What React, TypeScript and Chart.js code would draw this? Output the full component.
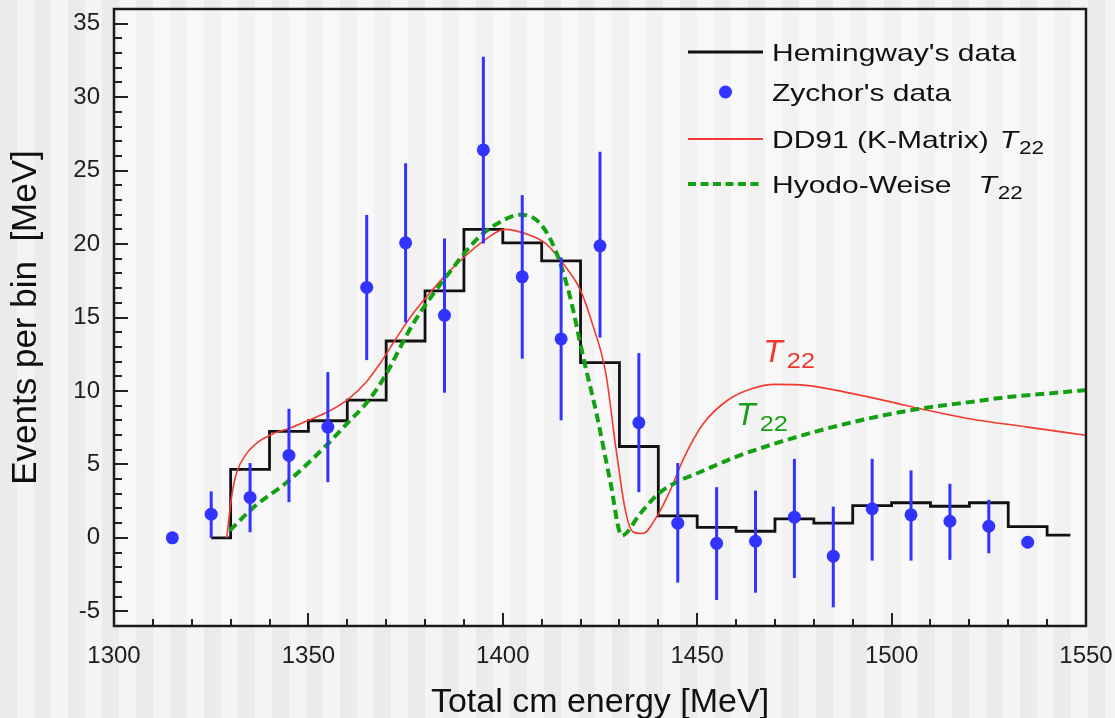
import React, { useEffect, useRef } from "react";
import { Chart, registerables } from "chart.js";

Chart.register(...registerables);

const FONT = "'Liberation Sans', Arial, Helvetica, sans-serif";

// Axis ticks
const xTickValues = [1300, 1350, 1400, 1450, 1500, 1550];
const yTickValues = [-5, 0, 5, 10, 15, 20, 25, 30, 35];
const xMinorStep = 10;
const yMinorStep = 1;

// Hemingway's histogram: bin left edges (last value closes the final bin) and contents
const hemEdges = [1325, 1330, 1340, 1350, 1360, 1370, 1380, 1390, 1400, 1410, 1420, 1430, 1440, 1450, 1460, 1470, 1480, 1490, 1500, 1510, 1520, 1530, 1540, 1546];
const hemCounts = [0, 4.66, 7.25, 7.97, 9.38, 13.4, 16.81, 21.0, 20.08, 18.86, 11.93, 6.22, 1.5, 0.72, 0.45, 1.29, 1.0, 2.2, 2.39, 2.15, 2.39, 0.77, 0.18, 0.18];

// Zychor's data points with error bars
const zyEnergy = [1315, 1325, 1335, 1345, 1355, 1365, 1375, 1385, 1395, 1405, 1415, 1425, 1435, 1445, 1455, 1465, 1475, 1485, 1495, 1505, 1515, 1525, 1535];
const zyCounts = [0.0, 1.61, 2.75, 5.61, 7.54, 17.05, 20.08, 15.15, 26.41, 17.77, 13.54, 19.88, 7.84, 1.0, -0.37, -0.23, 1.41, -1.25, 1.98, 1.57, 1.13, 0.79, -0.3];
const zyHigh = [0.0, 3.16, 5.09, 8.79, 11.28, 21.98, 25.5, 20.38, 32.75, 23.33, 19.09, 26.28, 12.58, 5.09, 3.45, 3.22, 5.38, 2.13, 5.38, 4.59, 3.68, 2.59, -0.3];
const zyLow = [0.0, 0.0, 0.38, 2.43, 3.79, 12.1, 14.66, 9.88, 20.04, 12.2, 8.0, 13.63, 3.11, -3.05, -4.23, -3.73, -2.73, -4.73, -1.55, -1.55, -1.5, -1.05, -0.3];

// DD91 (K-Matrix) T22 curve
const ddEnergy = [1329, 1330.3, 1331.5, 1334, 1337.5, 1341, 1345, 1350, 1355.5, 1360.5, 1365, 1368.5, 1372.5, 1377, 1381, 1385, 1390, 1395, 1400.5, 1407, 1411, 1416, 1420, 1423, 1426.5, 1429, 1431.5, 1433.5, 1436, 1439.5, 1443, 1446.5, 1451.5, 1458, 1464, 1470, 1478, 1490, 1500, 1508, 1520, 1535, 1550];
const ddT22 = [0, 2.9, 4.4, 5.7, 6.6, 7.1, 7.45, 8.0, 8.65, 9.5, 10.65, 11.9, 13.55, 15.3, 16.6, 17.8, 19.1, 20.2, 21.0, 20.6, 20.05, 18.5, 16.85, 14.6, 11.2, 6.3, 1.9, 0.4, 0.3, 1.4, 3.2, 5.4, 7.75, 9.4, 10.15, 10.45, 10.38, 9.82, 9.24, 8.75, 8.11, 7.54, 6.98];

// Hyodo-Weise T22 curve
const hwEnergy = [1329.8, 1336, 1345, 1355, 1360, 1365, 1369, 1377, 1385.5, 1394, 1400, 1404.4, 1409.6, 1413.8, 1417.3, 1420.7, 1424.1, 1427.6, 1430.6, 1435.3, 1440, 1445.5, 1449.7, 1459.8, 1469.9, 1480, 1490, 1500, 1510, 1520, 1530, 1540, 1550];
const hwT22 = [0.5, 2.1, 3.9, 6.4, 7.8, 9.2, 10.7, 14.6, 17.8, 20.5, 21.6, 22.0, 21.4, 19.4, 16.4, 12.3, 8.45, 3.9, 0.16, 1.64, 3.0, 3.9, 4.36, 5.5, 6.41, 7.2, 7.88, 8.45, 8.9, 9.24, 9.59, 9.82, 10.06];

// In-plot curve labels (anchored in data coordinates)
const curveLabels = [
  { x: 1467, y: 12.0, color: "#f0362c" },
  { x: 1460, y: 7.65, color: "#17a017" },
];

const BLACK = "#111111";
const BLUE = "#3333ff";
const RED = "#f23a30";
const GREEN = "#13a013";

const toPoints = (xs: number[], ys: number[]) => xs.map((x, i) => ({ x, y: ys[i] }));

function stretchedText(ctx: CanvasRenderingContext2D, text: string, x: number, y: number, sx: number) {
  ctx.save();
  ctx.translate(x, y);
  ctx.scale(sx, 1);
  ctx.fillText(text, 0, 0);
  ctx.restore();
  return ctx.measureText(text).width * sx;
}

const zeroPadding = (s: any) => {
  s.paddingTop = 0;
  s.paddingBottom = 0;
  s.paddingLeft = 0;
  s.paddingRight = 0;
};

const errorBars = {
  id: "errorBars",
  beforeDatasetDraw(chart: any, args: any) {
    if (args.index !== 1) return;
    const { ctx, scales } = chart;
    ctx.save();
    ctx.strokeStyle = BLUE;
    ctx.lineWidth = 3;
    zyEnergy.forEach((e, i) => {
      if (zyHigh[i] === zyLow[i]) return;
      const px = scales.x.getPixelForValue(e);
      ctx.beginPath();
      ctx.moveTo(px, scales.y.getPixelForValue(zyHigh[i]));
      ctx.lineTo(px, scales.y.getPixelForValue(zyLow[i]));
      ctx.stroke();
    });
    ctx.restore();
  },
};

const frameTicks = {
  id: "frameTicks",
  beforeDatasetsDraw(chart: any) {
    const { ctx, chartArea: a } = chart;
    ctx.save();
    ctx.fillStyle = "rgba(255,255,255,0.35)";
    ctx.fillRect(a.left, a.top, a.right - a.left, a.bottom - a.top);
    ctx.restore();
  },
  afterDatasetsDraw(chart: any) {
    const { ctx, chartArea: a, scales } = chart;
    const xs = scales.x;
    const ys = scales.y;
    ctx.save();
    ctx.strokeStyle = "#222222";
    ctx.lineWidth = 2;
    for (let v = xs.min; v <= xs.max; v += xMinorStep) {
      const px = Math.round(xs.getPixelForValue(v));
      const len = xTickValues.includes(v) ? 13 : 7;
      ctx.beginPath();
      ctx.moveTo(px, a.bottom);
      ctx.lineTo(px, a.bottom - len);
      ctx.stroke();
    }
    for (let v = -6; v <= 36; v += yMinorStep) {
      const py = Math.round(ys.getPixelForValue(v));
      const len = yTickValues.includes(v) ? 14 : 8;
      ctx.beginPath();
      ctx.moveTo(a.left, py);
      ctx.lineTo(a.left + len, py);
      ctx.stroke();
    }
    ctx.lineWidth = 2.5;
    ctx.strokeStyle = "#1a1a1a";
    ctx.strokeRect(a.left, a.top, a.right - a.left, a.bottom - a.top);

    // curve labels T22
    curveLabels.forEach((lab) => {
      const px = xs.getPixelForValue(lab.x);
      const py = ys.getPixelForValue(lab.y);
      ctx.fillStyle = lab.color;
      ctx.textBaseline = "alphabetic";
      ctx.textAlign = "left";
      ctx.font = `italic 32px ${FONT}`;
      const w = stretchedText(ctx, "T", px, py, 1.0);
      ctx.font = `22px ${FONT}`;
      stretchedText(ctx, "22", px + w + 4, py + 6, 1.15);
    });

    // legend
    const lx0 = a.right - 398;
    const lx1 = a.right - 323;
    const tx = a.right - 314;
    const rows = [
      { y: a.top + 43, kind: "line", color: BLACK, width: 2.8, dash: [] as number[], text: "Hemingway's data", gap: 0 },
      { y: a.top + 83, kind: "dot", color: BLUE, width: 0, dash: [] as number[], text: "Zychor's data", gap: 0 },
      { y: a.top + 130, kind: "line", color: RED, width: 2, dash: [] as number[], text: "DD91 (K-Matrix)", gap: 11 },
      { y: a.top + 175, kind: "line", color: GREEN, width: 4, dash: [8, 4.5], text: "Hyodo-Weise", gap: 27 },
    ];
    rows.forEach((r) => {
      if (r.kind === "line") {
        ctx.save();
        ctx.strokeStyle = r.color;
        ctx.lineWidth = r.width;
        ctx.setLineDash(r.dash);
        ctx.beginPath();
        ctx.moveTo(lx0, r.y);
        ctx.lineTo(lx1, r.y);
        ctx.stroke();
        ctx.restore();
      } else {
        ctx.fillStyle = r.color;
        ctx.beginPath();
        ctx.arc((lx0 + lx1) / 2, r.y, 6.5, 0, Math.PI * 2);
        ctx.fill();
      }
      ctx.fillStyle = "#111111";
      ctx.textAlign = "left";
      ctx.textBaseline = "alphabetic";
      ctx.font = `24px ${FONT}`;
      const base = r.y + 8.5;
      const w = stretchedText(ctx, r.text, tx, base, 1.25);
      if (r.gap) {
        const tx2 = tx + w + r.gap;
        ctx.font = `italic 24px ${FONT}`;
        const tw = stretchedText(ctx, "T", tx2, base, 1.25);
        ctx.font = `18px ${FONT}`;
        stretchedText(ctx, "22", tx2 + tw + 1, base + 6, 1.25);
      }
    });
    ctx.restore();
  },
};

export default function App() {
  const ref = useRef<HTMLCanvasElement>(null);

  useEffect(() => {
    const canvas = ref.current;
    if (!canvas) return;
    const chart = new Chart(canvas, {
      type: "line",
      data: {
        datasets: [
          {
            label: "Hemingway's data",
            data: toPoints(hemEdges, hemCounts),
            borderColor: BLACK,
            borderWidth: 2.8,
            pointRadius: 0,
            stepped: "before",
            fill: false,
            order: 3,
          },
          {
            label: "Zychor's data",
            data: toPoints(zyEnergy, zyCounts),
            showLine: false,
            pointRadius: 6.5,
            pointBackgroundColor: BLUE,
            pointBorderColor: BLUE,
            pointBorderWidth: 0,
            order: 0,
          },
          {
            label: "DD91 (K-Matrix) T22",
            data: toPoints(ddEnergy, ddT22),
            borderColor: RED,
            borderWidth: 1.6,
            pointRadius: 0,
            cubicInterpolationMode: "monotone",
            fill: false,
            order: 2,
          },
          {
            label: "Hyodo-Weise T22",
            data: toPoints(hwEnergy, hwT22),
            borderColor: GREEN,
            borderWidth: 4,
            borderDash: [9, 5],
            pointRadius: 0,
            cubicInterpolationMode: "monotone",
            fill: false,
            order: 1,
          },
        ],
      } as any,
      options: {
        animation: false,
        responsive: false,
        maintainAspectRatio: false,
        layout: { padding: { top: 9, right: 29, left: 0, bottom: 0 } },
        plugins: {
          legend: { display: false },
          tooltip: { enabled: false },
        },
        scales: {
          x: {
            type: "linear",
            min: 1300,
            max: 1550,
            afterBuildTicks: (s: any) => {
              s.ticks = xTickValues.map((v) => ({ value: v }));
            },
            afterFit: (s: any) => {
              s.height = 92;
              zeroPadding(s);
            },
            grid: { display: false, drawTicks: false },
            border: { display: false },
            ticks: {
              font: { family: FONT, size: 24 },
              color: "#1e1e1e",
              padding: 16,
              maxRotation: 0,
              autoSkip: false,
              callback: (v: any) => String(v),
            },
            title: {
              display: true,
              text: "Total cm energy [MeV]",
              font: { family: FONT, size: 34 },
              color: "#111111",
              padding: { top: 0, bottom: -5 },
            },
          },
          y: {
            type: "linear",
            min: -6,
            max: 36,
            afterBuildTicks: (s: any) => {
              s.ticks = yTickValues.map((v) => ({ value: v }));
            },
            afterFit: (s: any) => {
              s.width = 114;
              zeroPadding(s);
            },
            grid: { display: false, drawTicks: false },
            border: { display: false },
            ticks: {
              font: { family: FONT, size: 24 },
              color: "#1e1e1e",
              padding: 14,
              autoSkip: false,
              callback: (v: any) => String(v),
            },
            title: {
              display: true,
              text: "Events per bin  [MeV]",
              font: { family: FONT, size: 35 },
              color: "#111111",
              padding: { top: 5, bottom: 0 },
            },
          },
        },
      } as any,
      plugins: [errorBars, frameTicks],
    });
    return () => chart.destroy();
  }, []);

  return (
    <div
      style={{
        position: "fixed",
        left: 0,
        top: 0,
        width: 1115,
        height: 718,
        background: "repeating-linear-gradient(90deg, #ebebeb 0px, #ebebeb 17px, #f4f4f4 17px, #f4f4f4 34px)",
      }}
    >
      <canvas ref={ref} width={1115} height={718} style={{ display: "block" }} />
    </div>
  );
}
